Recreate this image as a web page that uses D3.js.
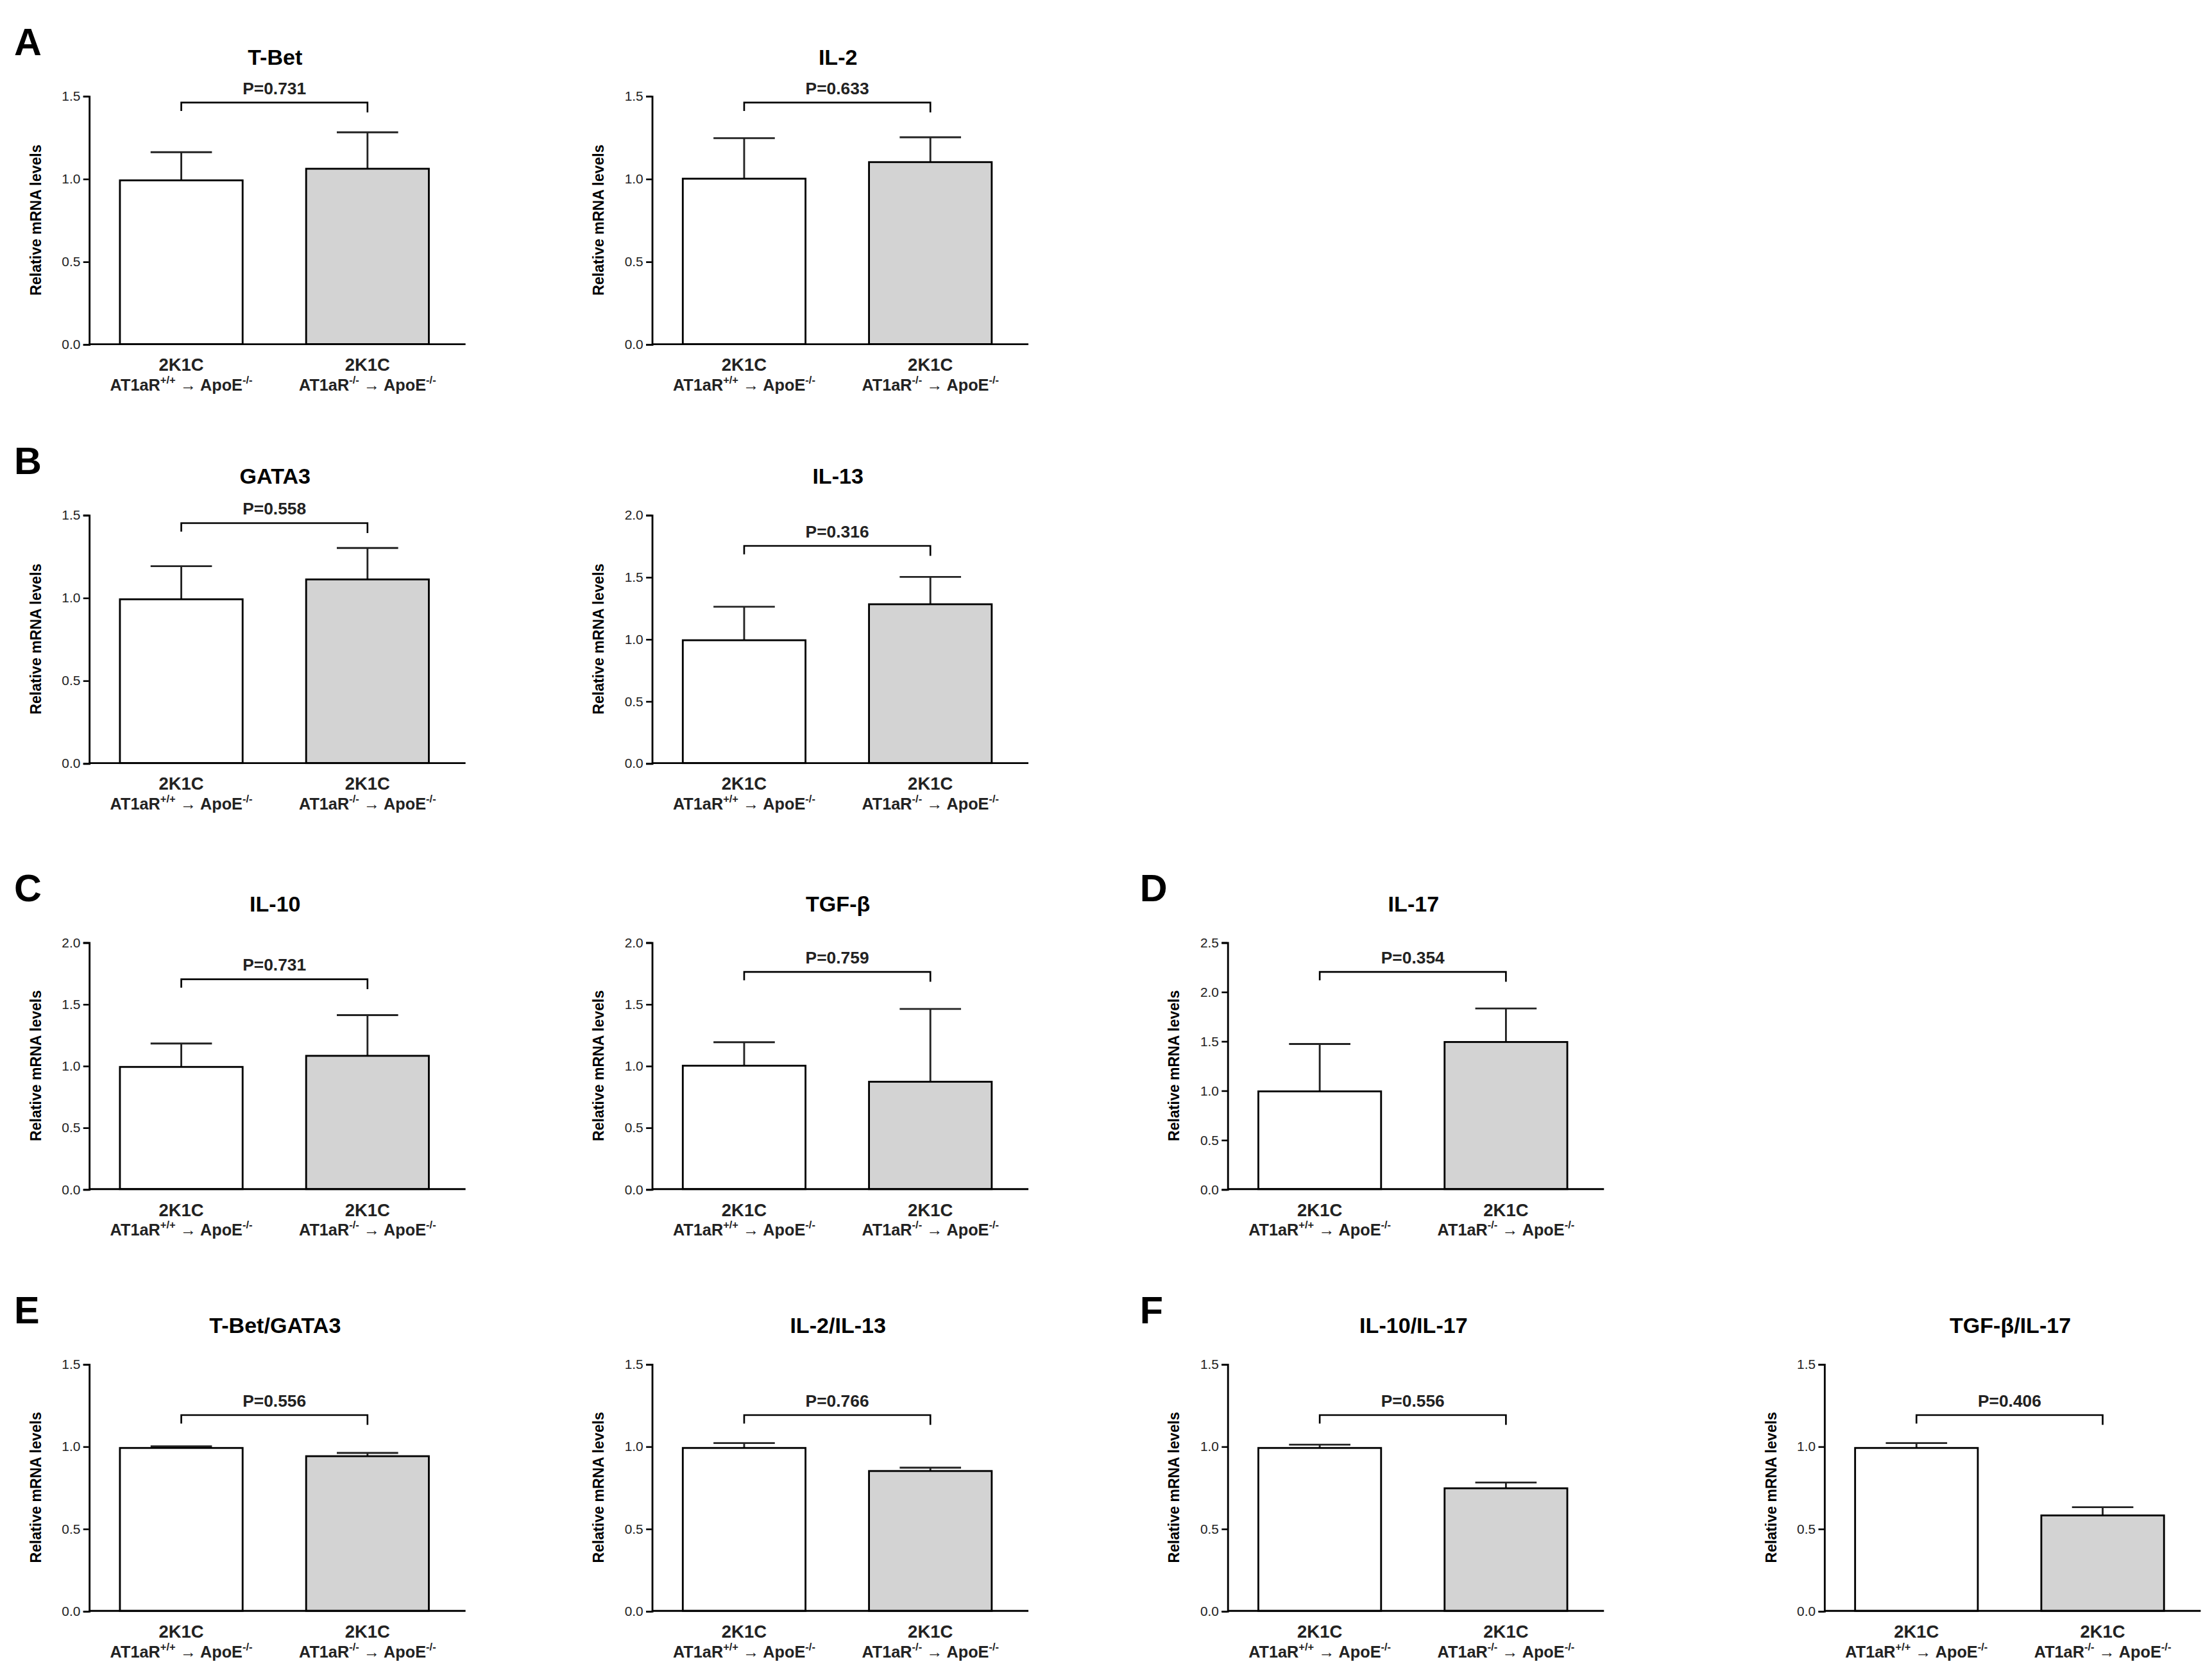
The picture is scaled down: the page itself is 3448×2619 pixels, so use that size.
<!DOCTYPE html>
<html><head><meta charset="utf-8">
<script src="https://cdn.jsdelivr.net/npm/d3@7"></script>
<style>body{margin:0;background:#fff}text{font-family:Arial,"Liberation Sans",sans-serif}</style>
</head><body>
<svg id="chart" width="3448" height="2619" viewBox="0 0 1568 1191"></svg>
<script>
// chart values
const titles = ["T-Bet", "IL-2", "GATA3", "IL-13", "IL-10", "TGF-β", "IL-17", "T-Bet/GATA3", "IL-2/IL-13", "IL-10/IL-17", "TGF-β/IL-17"];
const yMax = [1.5, 1.5, 1.5, 2.0, 2.0, 2.0, 2.5, 1.5, 1.5, 1.5, 1.5];
const wtMean = [0.99, 1.0, 0.99, 0.99, 0.99, 1.0, 0.99, 0.99, 0.99, 0.99, 0.99];
const koMean = [1.06, 1.10, 1.11, 1.28, 1.08, 0.87, 1.49, 0.94, 0.85, 0.745, 0.58];
const wtErr = [1.16, 1.245, 1.19, 1.26, 1.18, 1.19, 1.47, 1.0, 1.02, 1.01, 1.02];
const koErr = [1.28, 1.25, 1.30, 1.50, 1.41, 1.46, 1.83, 0.96, 0.87, 0.78, 0.63];
const bracketAt = [1.46, 1.46, 1.45, 1.75, 1.70, 1.76, 2.2, 1.19, 1.19, 1.19, 1.19];
const pValues = ["0.731", "0.633", "0.558", "0.316", "0.731", "0.759", "0.354", "0.556", "0.766", "0.556", "0.406"];
const panelCol = [0, 1, 0, 1, 0, 1, 2, 0, 1, 2, 3];
const panelRow = [0, 0, 1, 1, 2, 2, 2, 3, 3, 3, 3];
const letters = [["A", 0, 0], ["B", 0, 1], ["C", 0, 2], ["D", 2, 2], ["E", 0, 3], ["F", 2, 3]];

const colX = [63, 462, 870, 1293];
const rowTop = [68, 365, 668, 967];
const rowBottom = [244, 541, 843, 1142];
const letterX = [10, 0, 808];

const svg = d3.select("#chart");

letters.forEach(([l, c, r]) => {
  svg.append("text").attr("x", letterX[c]).attr("y", rowTop[r] - 29)
    .attr("font-size", 27).attr("font-weight", "bold").text(l);
});

titles.forEach((t, i) => {
  const x0 = colX[panelCol[i]], top = rowTop[panelRow[i]], bot = rowBottom[panelRow[i]];
  const g = svg.append("g");
  const x = d3.scaleBand().domain([0, 1]).range([x0, x0 + 263]).paddingInner(0.341).paddingOuter(0.1667);
  const y = d3.scaleLinear().domain([0, yMax[i]]).range([bot, top]);

  const means = [wtMean[i], koMean[i]], errs = [wtErr[i], koErr[i]];
  const bw = x.bandwidth();

  // error bars (upper only)
  [0, 1].forEach(k => {
    const cx = x(k) + bw / 2;
    g.append("line").attr("x1", cx).attr("x2", cx).attr("y1", y(means[k])).attr("y2", y(errs[k]))
      .attr("stroke", "#222").attr("stroke-width", 1.3);
    g.append("line").attr("x1", cx - bw / 4).attr("x2", cx + bw / 4).attr("y1", y(errs[k])).attr("y2", y(errs[k]))
      .attr("stroke", "#222").attr("stroke-width", 1.3);
  });

  g.selectAll("rect").data(means).join("rect")
    .attr("x", (d, k) => x(k)).attr("width", bw)
    .attr("y", d => y(d)).attr("height", d => bot - y(d))
    .attr("fill", (d, k) => k ? "#d3d3d3" : "#fff")
    .attr("stroke", "#000").attr("stroke-width", 1.3);

  // axes
  const ax = g.append("g").attr("transform", `translate(${x0},0)`)
    .call(d3.axisLeft(y).tickValues(d3.range(0, yMax[i] + 0.01, 0.5)).tickFormat(d3.format(".1f")).tickSize(4).tickPadding(2));
  ax.select(".domain").attr("stroke-width", 1.3);
  ax.selectAll(".tick line").attr("stroke-width", 1.2);
  ax.selectAll("text").attr("font-size", 9.5).attr("font-family", "Arial,'Liberation Sans',sans-serif").attr("fill", "#222");
  g.append("line").attr("x1", x0).attr("x2", x0 + 267).attr("y1", bot).attr("y2", bot)
    .attr("stroke", "#000").attr("stroke-width", 1.3);

  g.append("text").attr("transform", `translate(${x0 - 34},${(top + bot) / 2}) rotate(-90)`)
    .attr("text-anchor", "middle").attr("font-size", 10.5).attr("font-weight", "bold").text("Relative mRNA levels");

  g.append("text").attr("x", x0 + 132).attr("y", top - 22).attr("text-anchor", "middle")
    .attr("font-size", 15.5).attr("font-weight", "bold").text(t);

  // bracket
  const c1 = x(0) + bw / 2, c2 = x(1) + bw / 2, by = y(bracketAt[i]);
  g.append("path").attr("d", `M${c1},${by + 6}V${by}H${c2}V${by + 7}`)
    .attr("fill", "none").attr("stroke", "#000").attr("stroke-width", 1.2);
  g.append("text").attr("x", (c1 + c2) / 2).attr("y", by - 6).attr("text-anchor", "middle")
    .attr("font-size", 12).attr("font-weight", "bold").attr("fill", "#222").text("P=" + pValues[i]);

  // x labels
  [0, 1].forEach(k => {
    const cx = x(k) + bw / 2;
    g.append("text").attr("x", cx).attr("y", bot + 19).attr("text-anchor", "middle")
      .attr("font-size", 12.5).attr("font-weight", "bold").attr("fill", "#222").text("2K1C");
    const t2 = g.append("text").attr("x", cx).attr("y", bot + 33).attr("text-anchor", "middle")
      .attr("font-size", 11.5).attr("font-weight", "bold").attr("fill", "#222");
    t2.append("tspan").text("AT1aR");
    t2.append("tspan").attr("dy", -5).attr("font-size", 7.5).text(k ? "-/-" : "+/+");
    t2.append("tspan").attr("dy", 5).text(" → ApoE");
    t2.append("tspan").attr("dy", -5).attr("font-size", 7.5).text("-/-");
  });
});
</script>
</body></html>
